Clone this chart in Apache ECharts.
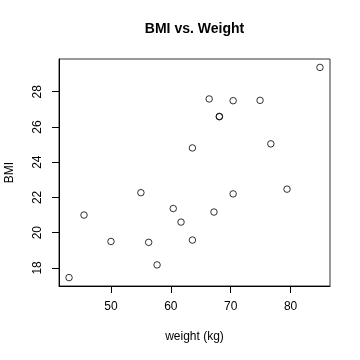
<!DOCTYPE html>
<html>
<head>
<meta charset="utf-8">
<script src="https://cdn.jsdelivr.net/npm/echarts@6/dist/echarts.min.js"></script>
<style>html,body{margin:0;padding:0;background:#fff}#c{width:360px;height:360px}</style>
</head>
<body>
<div id="c"></div>
<script>
const weight = [43.0, 45.5, 50.0, 55.0, 56.3, 57.7, 60.4, 61.7, 63.6, 63.6, 66.4, 68.1, 68.1, 70.4, 70.4, 67.2, 74.9, 76.7, 79.4, 84.9];
const bmi    = [17.45, 21.0, 19.5, 22.27, 19.45, 18.17, 21.37, 20.6, 24.81, 19.58, 27.59, 26.6, 26.58, 27.49, 22.2, 21.17, 27.51, 25.04, 22.47, 29.38];
const xTicks = [50, 60, 70, 80];
const yTicks = [18, 20, 22, 24, 26, 28];
const titleText = 'BMI vs. Weight';
const xName = 'weight (kg)';
const yName = 'BMI';

const pts = weight.map((w, i) => [w, bmi[i]]);
const xmin = Math.min(...weight), xmax = Math.max(...weight);
const ymin = Math.min(...bmi), ymax = Math.max(...bmi);
const xr = xmax - xmin, yr = ymax - ymin;
const font = '"Liberation Sans", Arial, Helvetica, sans-serif';

const chart = echarts.init(document.getElementById('c'), null, {renderer: 'canvas'});
chart.setOption({
  animation: false,
  backgroundColor: '#fff',
  title: {
    text: titleText,
    left: 194.5, top: 22, textAlign: 'center', padding: 0,
    textStyle: {fontFamily: font, fontSize: 14, fontWeight: 'bold', color: '#000'}
  },
  grid: {left: 59, right: 30, top: 59, bottom: 74, outerBoundsMode: 'none', containLabel: false,
         show: true, borderColor: '#333', borderWidth: 1, backgroundColor: 'transparent'},
  xAxis: {
    type: 'value', min: xmin - 0.04 * xr, max: xmax + 0.04 * xr,
    name: xName, nameLocation: 'middle', nameGap: 45,
    nameTextStyle: {fontFamily: font, fontSize: 12, color: '#000'},
    axisLine: {show: true, onZero: false, lineStyle: {color: '#000', width: 1}},
    axisTick: {show: true, length: 7, customValues: xTicks, lineStyle: {color: '#000'}},
    axisLabel: {customValues: xTicks, margin: 15, fontFamily: font, fontSize: 12, color: '#000'},
    splitLine: {show: false}
  },
  yAxis: {
    type: 'value', min: ymin - 0.04 * yr, max: ymax + 0.04 * yr,
    name: yName, nameLocation: 'middle', nameGap: 43, nameRotate: 90,
    nameTextStyle: {fontFamily: font, fontSize: 12, color: '#000'},
    axisLine: {show: true, onZero: false, lineStyle: {color: '#000', width: 1}},
    axisTick: {show: true, length: 7, customValues: yTicks, lineStyle: {color: '#000'}},
    axisLabel: {customValues: yTicks, rotate: 90, margin: 15, fontFamily: font, fontSize: 12, color: '#000'},
    splitLine: {show: false}
  },
  series: [{
    type: 'scatter', data: pts, symbol: 'circle', symbolSize: 6.5,
    itemStyle: {color: 'transparent', borderColor: '#000', borderWidth: 1},
    emphasis: {disabled: true}
  }]
});
</script>
</body>
</html>
